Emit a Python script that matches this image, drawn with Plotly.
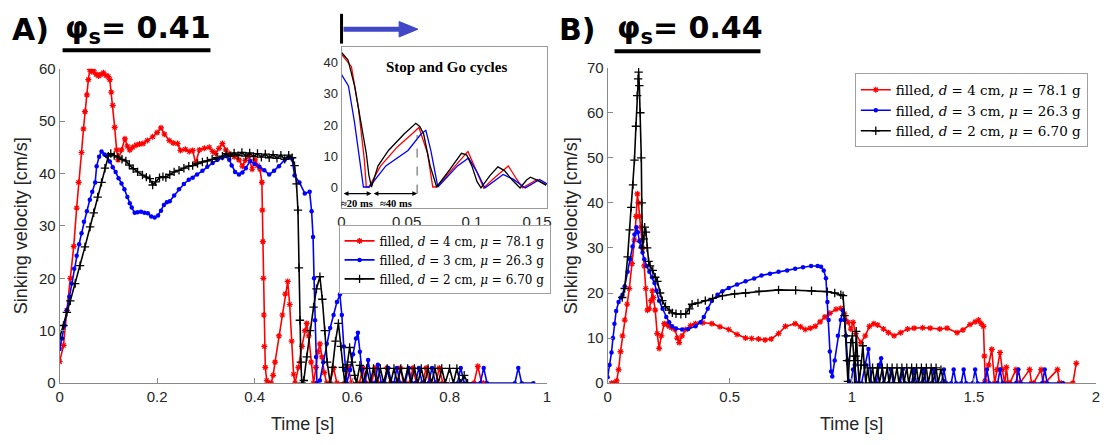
import plotly.graph_objects as go

W, H = 1106, 445

# ---------------- Panel A (phi_s = 0.41) ----------------
a_red_t = [0, 0.008, 0.015, 0.022, 0.029, 0.035, 0.039, 0.045, 0.049, 0.052, 0.056, 0.059, 0.062, 0.066,
           0.070, 0.075, 0.080, 0.085, 0.090, 0.095, 0.100, 0.103, 0.106, 0.109, 0.113, 0.117, 0.120, 0.127,
           0.134, 0.139, 0.144, 0.150, 0.157, 0.164, 0.171, 0.180, 0.191, 0.200, 0.208, 0.215, 0.225, 0.233,
           0.242, 0.248, 0.258, 0.266, 0.273, 0.279, 0.287, 0.297, 0.307, 0.314, 0.320, 0.327, 0.334, 0.341,
           0.348, 0.358, 0.368, 0.375, 0.381, 0.388, 0.395, 0.401, 0.406, 0.411, 0.415, 0.416, 0.417, 0.418,
           0.419, 0.420, 0.422, 0.425, 0.428, 0.434, 0.438, 0.442, 0.450, 0.457, 0.463, 0.468, 0.472, 0.476,
           0.480, 0.483, 0.490, 0.497, 0.503, 0.507, 0.511, 0.516, 0.521, 0.526, 0.530, 0.534, 0.538, 0.543,
           0.548, 0.555, 0.562, 0.569, 0.585, 0.592, 0.599, 0.615, 0.622, 0.629, 0.640, 0.647, 0.654, 0.665,
           0.672, 0.679, 0.692, 0.699, 0.706, 0.718, 0.725, 0.732, 0.745, 0.752, 0.759, 0.772, 0.779, 0.786,
           0.850, 0.858, 0.866, 0.870]
a_red_v = [4.1, 7.2, 13.9, 20.0, 26.1, 33.4, 38.3, 44.0, 48.5, 51.8, 55.0, 57.9, 59.8, 59.4,
           59.6, 58.9, 58.6, 58.9, 59.2, 58.7, 58.5, 57.9, 55.5, 53.0, 48.8, 44.5, 42.6, 44.5,
           46.6, 45.2, 44.5, 45.0, 45.4, 45.6, 45.7, 46.3, 47.0, 47.8, 48.7, 47.5, 46.3, 45.8,
           45.7, 44.4, 44.6, 44.2, 44.4, 42.0, 44.5, 44.8, 45.0, 44.2, 43.8, 44.8, 45.7, 44.5,
           43.8, 43.2, 42.6, 41.4, 42.5, 43.3, 40.8, 42.6, 41.5, 40.8, 38.3, 33.0, 27.0, 20.0,
           13.0, 7.0, 3.0, 0.5, 0.0, 0.0, 1.5, 4.0, 9.0, 13.0, 17.0, 19.4, 15.0, 8.0,
           1.7, 0.0, 3.0, 7.0, 10.0, 11.4, 9.0, 4.0, 0.0, 3.0, 6.0, 7.5, 5.0, 2.0,
           0.0, 0.0, 2.9, 0.0, 0.0, 2.9, 0.0, 0.0, 2.9, 0.0, 0.0, 2.9, 0.0, 0.0,
           2.9, 0.0, 0.0, 2.9, 0.0, 0.0, 2.9, 0.0, 0.0, 2.9, 0.0, 0.0, 2.9, 0.0,
           0.0, 3.2, 0.0, 0.0]

a_blue_t = [0, 0.005, 0.010, 0.015, 0.020, 0.025, 0.030, 0.035, 0.040, 0.045, 0.050, 0.056, 0.062, 0.067,
            0.073, 0.076, 0.081, 0.086, 0.092, 0.097, 0.103, 0.109, 0.115, 0.121, 0.127, 0.133, 0.139, 0.144,
            0.148, 0.154, 0.160, 0.167, 0.174, 0.181, 0.188, 0.195, 0.202, 0.208, 0.214, 0.220, 0.226, 0.235,
            0.245, 0.255, 0.265, 0.273, 0.282, 0.293, 0.303, 0.314, 0.324, 0.334, 0.343, 0.348, 0.353, 0.360,
            0.368, 0.375, 0.382, 0.391, 0.400, 0.410, 0.420, 0.430, 0.440, 0.450, 0.462, 0.470, 0.477, 0.482,
            0.492, 0.503, 0.513, 0.517, 0.520, 0.522, 0.524, 0.526, 0.528, 0.534, 0.541, 0.548, 0.555, 0.562,
            0.569, 0.575, 0.579, 0.583, 0.586, 0.589, 0.596, 0.602, 0.608, 0.612, 0.616, 0.620, 0.623, 0.627,
            0.633, 0.640, 0.647, 0.653, 0.660, 0.667, 0.674, 0.681, 0.686, 0.692, 0.699, 0.709, 0.716, 0.723,
            0.730, 0.737, 0.744, 0.757, 0.764, 0.771, 0.816, 0.823, 0.830, 0.863, 0.870, 0.877, 0.934, 0.941,
            0.948, 0.972]
a_blue_v = [6.5, 8.5, 11.0, 13.9, 16.5, 19.0, 21.8, 24.3, 26.5, 28.6, 30.8, 32.8, 35.0, 36.5,
            38.3, 41.4, 43.2, 44.2, 43.6, 43.3, 42.3, 41.2, 40.3, 39.1, 38.1, 37.0, 35.5, 34.3,
            33.5, 32.5, 32.6, 32.7, 32.5, 32.4, 31.8, 31.6, 32.0, 32.9, 34.0, 34.5, 34.7, 35.8,
            37.0, 38.0, 38.8, 39.2, 39.8, 40.5, 41.3, 42.0, 42.6, 43.0, 43.3, 42.6, 41.5, 40.3,
            39.8, 40.2, 41.0, 42.4, 41.8, 41.3, 40.6, 39.8, 40.5, 41.4, 42.6, 43.0, 42.8, 39.6,
            38.3, 36.2, 36.5, 32.8, 27.9, 20.0, 12.0, 5.0, 0.0, 0.5, 4.0, 7.5, 10.5, 13.0,
            15.5, 16.9, 13.0, 7.0, 2.5, 0.0, 2.5, 5.5, 8.5, 9.6, 6.0, 2.5, 0.0, 0.0,
            4.4, 0.0, 0.0, 3.5, 0.0, 0.0, 2.9, 0.0, 0.0, 2.9, 0.0, 0.0, 2.9, 0.0,
            0.0, 2.9, 0.0, 0.0, 2.9, 0.0, 0.0, 2.9, 0.0, 0.0, 2.9, 0.0, 0.0, 2.9,
            0.0, 0.0]

a_black_t = [0, 0.008, 0.015, 0.022, 0.032, 0.042, 0.052, 0.0625, 0.070, 0.078, 0.086, 0.093, 0.100, 0.105,
             0.112, 0.120, 0.128, 0.136, 0.143, 0.151, 0.160, 0.170, 0.178, 0.185, 0.191, 0.197, 0.205, 0.212,
             0.218, 0.226, 0.235, 0.245, 0.255, 0.265, 0.273, 0.283, 0.293, 0.303, 0.313, 0.323, 0.334, 0.342,
             0.350, 0.358, 0.366, 0.374, 0.382, 0.390, 0.398, 0.406, 0.414, 0.422, 0.430, 0.438, 0.446, 0.454,
             0.462, 0.470, 0.477, 0.482, 0.486, 0.489, 0.491, 0.493, 0.495, 0.497, 0.501, 0.507, 0.514, 0.521,
             0.527, 0.534, 0.539, 0.544, 0.549, 0.555, 0.560, 0.566, 0.572, 0.577, 0.581, 0.585, 0.590, 0.595,
             0.600, 0.605, 0.609, 0.616, 0.623, 0.630, 0.637, 0.644, 0.651, 0.658, 0.665, 0.672, 0.679, 0.686,
             0.693, 0.700, 0.707, 0.714, 0.721, 0.728, 0.735, 0.742, 0.749, 0.756, 0.763, 0.770, 0.777, 0.784,
             0.791, 0.800, 0.808, 0.815, 0.822, 0.830, 0.837]
a_black_v = [8.6, 11.0, 13.5, 15.7, 19.0, 22.4, 26.0, 29.8, 32.5, 35.5, 38.3, 41.0, 43.3, 43.8,
             43.4, 43.1, 42.7, 42.4, 41.6, 40.9, 40.3, 39.7, 39.3, 39.0, 37.8, 38.4, 39.2, 39.4,
             39.2, 39.8, 40.3, 40.6, 41.0, 41.4, 41.5, 41.9, 42.2, 42.4, 42.7, 43.0, 43.3, 43.8,
             43.3, 43.9, 43.4, 44.0, 43.3, 43.9, 43.2, 43.8, 43.1, 43.7, 43.0, 43.6, 42.9, 43.5,
             42.7, 43.5, 43.0, 41.5, 38.0, 33.0, 22.0, 12.0, 4.0, 0.0, 0.5, 5.0, 10.0, 14.5,
             18.0, 20.3, 16.0, 10.0, 4.0, 0.0, 3.0, 8.0, 11.4, 7.0, 3.0, 0.0, 3.5, 6.8,
             4.0, 1.5, 0.0, 3.4, 0.0, 2.8, 0.0, 2.8, 0.0, 2.8, 0.0, 2.8, 0.0, 2.8,
             0.0, 2.8, 0.0, 2.8, 0.0, 2.8, 0.0, 2.8, 0.0, 2.8, 0.0, 2.8, 0.0, 2.8,
             0.0, 2.8, 0.0, 2.8, 0.0, 1.5, 0.0]

# ---------------- Inset: first stop-and-go cycles ----------------
in_red_t = [0, 0.0076, 0.013, 0.0175, 0.019, 0.021, 0.030, 0.043, 0.054, 0.0594, 0.066, 0.070, 0.073,
            0.085, 0.097, 0.104, 0.109, 0.118, 0.128, 0.134, 0.139, 0.145, 0.150, 0.157]
in_red_v = [42.4, 38.5, 25.3, 8.9, 0.3, 0.3, 7.0, 13.1, 17.1, 19.2, 11.0, 0.3, 0.3,
            6.0, 11.6, 5.0, 0.0, 3.5, 7.0, 3.0, 0.0, 1.5, 2.7, 0.9]
in_blue_t = [0, 0.0053, 0.0099, 0.0137, 0.0168, 0.0213, 0.034, 0.051, 0.061, 0.0647, 0.0685, 0.0739,
             0.089, 0.0975, 0.104, 0.110, 0.124, 0.132, 0.141, 0.152, 0.158]
in_blue_v = [36.0, 32.4, 21.0, 8.9, 0.3, 0.3, 7.0, 11.9, 17.1, 18.3, 11.9, 0.3,
             7.0, 9.5, 5.0, 0.0, 4.3, 2.7, 0.0, 2.7, 1.2]
in_black_t = [0, 0.005, 0.010, 0.015, 0.019, 0.021, 0.023, 0.028, 0.036, 0.048, 0.054, 0.057, 0.060,
              0.063, 0.068, 0.073, 0.083, 0.092, 0.096, 0.100, 0.104, 0.107, 0.114, 0.120, 0.125, 0.131,
              0.137, 0.142, 0.145, 0.150, 0.157]
in_black_v = [43.0, 40.6, 32.4, 21.0, 11.0, 4.0, 0.3, 7.0, 11.9, 17.1, 19.5, 20.5, 19.5,
              17.1, 7.0, 0.3, 5.8, 11.0, 10.5, 7.0, 2.0, 0.0, 4.0, 6.7, 5.5, 2.5,
              0.0, 2.5, 3.4, 2.5, 0.9]

# ---------------- Panel B (phi_s = 0.44) ----------------
b_red_t = [0.016, 0.025, 0.037, 0.045, 0.053, 0.061, 0.070, 0.080, 0.089, 0.100, 0.110, 0.117, 0.122, 0.126,
           0.131, 0.137, 0.143, 0.150, 0.156, 0.163, 0.170, 0.178, 0.183, 0.188, 0.195, 0.203, 0.211, 0.220,
           0.232, 0.242, 0.252, 0.262, 0.275, 0.285, 0.293, 0.305, 0.320, 0.340, 0.360, 0.390, 0.427, 0.460,
           0.496, 0.530, 0.565, 0.590, 0.618, 0.645, 0.670, 0.700, 0.728, 0.768, 0.790, 0.809, 0.830, 0.850,
           0.870, 0.890, 0.910, 0.935, 0.955, 0.970, 0.985, 0.996, 1.005, 1.016, 1.037, 1.055, 1.072, 1.090,
           1.106, 1.130, 1.150, 1.173, 1.200, 1.228, 1.255, 1.290, 1.321, 1.360, 1.390, 1.431, 1.455, 1.484,
           1.505, 1.519, 1.530, 1.539, 1.543, 1.546, 1.560, 1.573, 1.585, 1.595, 1.607, 1.616, 1.626, 1.633,
           1.640, 1.647, 1.672, 1.680, 1.688, 1.728, 1.736, 1.744, 1.775, 1.783, 1.791, 1.842, 1.850, 1.858,
           1.905, 1.919]
b_red_v = [0.0, 0.0, 0.5, 3.0, 7.0, 10.5, 14.0, 17.5, 21.0, 26.5, 31.8, 37.0, 42.0, 40.0,
           37.0, 34.6, 30.0, 26.0, 21.0, 16.2, 16.5, 18.3, 20.5, 19.0, 16.2, 11.0, 7.7, 10.5,
           13.2, 13.0, 12.6, 12.3, 11.9, 10.0, 9.0, 10.5, 11.9, 12.8, 13.2, 13.4, 13.2, 12.5,
           11.9, 10.8, 10.0, 9.9, 9.8, 9.6, 9.8, 11.0, 12.6, 13.2, 12.5, 11.9, 12.2, 12.6,
           13.6, 14.7, 15.5, 16.4, 16.6, 15.4, 13.5, 12.0, 13.5, 11.0, 9.0, 10.5, 12.6, 13.2,
           12.9, 12.0, 11.2, 10.5, 11.2, 12.0, 12.2, 12.3, 12.2, 12.0, 12.2, 11.2, 11.8, 13.0,
           13.6, 14.0, 13.2, 12.6, 6.0, 0.5, 4.0, 7.5, 0.0, 3.0, 6.8, 3.0, 0.0, 3.5,
           0.0, 0.0, 3.0, 0.0, 0.0, 3.0, 0.0, 0.0, 3.0, 0.0, 0.0, 3.0, 0.0, 0.0,
           0.0, 4.4]

b_blue_t = [0, 0.008, 0.016, 0.022, 0.028, 0.035, 0.045, 0.055, 0.061, 0.070, 0.082, 0.092, 0.102, 0.110,
            0.118, 0.124, 0.130, 0.137, 0.143, 0.150, 0.160, 0.171, 0.182, 0.192, 0.200, 0.211, 0.225, 0.240,
            0.252, 0.264, 0.280, 0.305, 0.330, 0.360, 0.380, 0.394, 0.410, 0.427, 0.450, 0.470, 0.496, 0.530,
            0.565, 0.600, 0.630, 0.665, 0.700, 0.735, 0.768, 0.800, 0.833, 0.860, 0.874, 0.885, 0.894, 0.900,
            0.905, 0.910, 0.915, 0.920, 0.930, 0.943, 0.955, 0.963, 0.970, 0.976, 0.982, 0.988, 0.996, 1.005,
            1.012, 1.020, 1.040, 1.055, 1.068, 1.080, 1.100, 1.112, 1.120, 1.130, 1.150, 1.160, 1.170, 1.198,
            1.208, 1.218, 1.245, 1.255, 1.265, 1.285, 1.295, 1.305, 1.326, 1.336, 1.346, 1.367, 1.377, 1.387,
            1.407, 1.417, 1.427, 1.448, 1.458, 1.468, 1.495, 1.505, 1.515, 1.543, 1.553, 1.563, 1.597, 1.607,
            1.617, 1.672, 1.682, 1.692, 1.780, 1.790, 1.800, 1.865]
b_blue_v = [1.3, 4.0, 6.8, 10.0, 13.2, 16.0, 18.0, 19.0, 19.6, 21.5, 24.7, 27.5, 30.3, 33.0,
            34.6, 33.5, 31.5, 30.3, 29.0, 27.5, 26.0, 24.7, 23.5, 22.2, 20.5, 18.3, 16.5, 14.7,
            13.5, 12.6, 12.1, 11.9, 12.0, 12.6, 13.5, 14.7, 16.5, 18.3, 19.6, 20.4, 21.1, 21.9,
            22.6, 23.2, 23.9, 24.3, 24.7, 25.0, 25.4, 25.7, 26.0, 26.0, 25.8, 25.0, 23.3, 18.0,
            14.0, 7.0, 2.6, 1.5, 5.0, 10.5, 14.0, 16.2, 14.0, 10.5, 5.0, 0.4, 0.0, 3.0,
            4.0, 0.0, 0.0, 4.0, 7.6, 0.0, 0.0, 4.0, 5.5, 0.0, 0.0, 3.0, 0.0, 0.0,
            3.0, 0.0, 0.0, 3.0, 0.0, 0.0, 3.0, 0.0, 0.0, 3.0, 0.0, 0.0, 3.0, 0.0,
            0.0, 3.0, 0.0, 0.0, 3.0, 0.0, 0.0, 3.0, 0.0, 0.0, 3.0, 0.0, 0.0, 3.0,
            0.0, 0.0, 3.0, 0.0, 0.0, 3.0, 0.0, 0.0]

b_black_t = [0.060, 0.070, 0.082, 0.090, 0.097, 0.104, 0.110, 0.116, 0.121, 0.125, 0.127, 0.130, 0.134, 0.138,
             0.140, 0.143, 0.148, 0.152, 0.157, 0.162, 0.168, 0.174, 0.185, 0.195, 0.204, 0.215, 0.224, 0.237,
             0.252, 0.265, 0.280, 0.300, 0.320, 0.335, 0.346, 0.370, 0.400, 0.430, 0.470, 0.520, 0.565, 0.620,
             0.700, 0.770, 0.835, 0.900, 0.930, 0.955, 0.964, 0.970, 0.975, 0.980, 0.984, 0.990, 0.996, 1.002,
             1.008, 1.012, 1.016, 1.018, 1.024, 1.030, 1.038, 1.045, 1.051, 1.057, 1.065, 1.073, 1.085, 1.093,
             1.105, 1.113, 1.125, 1.133, 1.145, 1.153, 1.165, 1.173, 1.185, 1.193, 1.205, 1.213, 1.225, 1.233,
             1.245, 1.253, 1.265, 1.273, 1.285, 1.293, 1.305, 1.313, 1.325, 1.333, 1.345, 1.353, 1.365, 1.378]
b_black_v = [19.0, 21.0, 28.0, 34.0, 39.0, 44.0, 49.5, 57.0, 63.8, 67.5, 69.0, 66.0, 60.0, 50.0,
             40.0, 30.0, 32.0, 34.6, 33.5, 30.0, 27.0, 26.0, 25.0, 23.5, 22.6, 20.0, 18.3, 17.0,
             16.2, 15.6, 15.4, 15.3, 15.4, 16.5, 17.5, 17.8, 18.3, 18.8, 19.4, 19.8, 20.0, 20.4,
             20.7, 20.6, 20.5, 20.3, 20.0, 19.6, 19.4, 15.0, 10.5, 5.0, 0.4, 5.0, 9.0, 10.5,
             6.0, 0.0, 6.0, 11.5, 5.0, 0.0, 4.0, 8.3, 4.0, 0.0, 3.4, 0.0, 3.4, 0.0,
             3.4, 0.0, 3.4, 0.0, 3.4, 0.0, 3.4, 0.0, 3.4, 0.0, 3.4, 0.0, 3.4, 0.0,
             3.4, 0.0, 3.4, 0.0, 3.4, 0.0, 3.4, 0.0, 3.4, 0.0, 3.4, 0.0, 3.0, 0.0]

legend_names = ["filled, <i>d</i> = 4 cm, <i>μ</i> = 78.1 g",
                "filled, <i>d</i> = 3 cm, <i>μ</i> = 26.3 g",
                "filled, <i>d</i> = 2 cm, <i>μ</i> = 6.70 g"]

RED, BLUE, BLACK = "#ff0000", "#0000ff", "#000000"
AX_COL = "#8a8a8a"
TXT_COL = "#262626"


def fx(px):
    return px / W


def fy(py):
    return 1 - py / H


def marker_style(color, kind):
    if kind == "star":
        return dict(symbol="asterisk", size=5, color=color, line=dict(color=color, width=1.2))
    if kind == "dot":
        return dict(symbol="circle", size=4.5, color=color, line=dict(width=0))
    return dict(symbol="cross-thin", size=6, color=color, line=dict(color=color, width=1.3))


fig = go.Figure()

panelA = [(a_red_t, a_red_v, RED, "star"), (a_blue_t, a_blue_v, BLUE, "dot"), (a_black_t, a_black_v, BLACK, "plus")]
for (t, v, c, k), name in zip(panelA, legend_names):
    fig.add_trace(go.Scatter(x=t, y=v, mode="lines+markers", name=name, xaxis="x", yaxis="y",
                             line=dict(color=c, width=1.6), marker=marker_style(c, k), legend="legend"))

panelB = [(b_red_t, b_red_v, RED, "star"), (b_blue_t, b_blue_v, BLUE, "dot"), (b_black_t, b_black_v, BLACK, "plus")]
for (t, v, c, k), name in zip(panelB, legend_names):
    fig.add_trace(go.Scatter(x=t, y=v, mode="lines+markers", name=name, xaxis="x2", yaxis="y2",
                             line=dict(color=c, width=1.6), marker=marker_style(c, k), legend="legend2"))

for t, v, c in [(in_red_t, in_red_v, RED), (in_blue_t, in_blue_v, BLUE), (in_black_t, in_black_v, BLACK)]:
    fig.add_trace(go.Scatter(x=t, y=v, mode="lines", xaxis="x3", yaxis="y3", showlegend=False,
                             line=dict(color=c, width=1.3)))

tickfont = dict(family="Liberation Sans, Arial", size=15, color=TXT_COL)
common = dict(showgrid=False, zeroline=False, showline=True, linecolor=AX_COL, linewidth=1,
              ticks="inside", ticklen=5, tickcolor=AX_COL, tickfont=tickfont)
legend_serif = "DejaVu Serif, Liberation Serif"

fig.update_layout(
    width=W, height=H, margin=dict(l=0, r=0, t=0, b=0),
    paper_bgcolor="white", plot_bgcolor="white",
    xaxis=dict(domain=[fx(56), fx(547)], range=[0, 1], tickvals=[0, 0.2, 0.4, 0.6, 0.8, 1],
               ticktext=["0", "0.2", "0.4", "0.6", "0.8", "1"], anchor="y", **common),
    yaxis=dict(domain=[fy(389), fy(62)], range=[0, 60], dtick=10, anchor="x", **common),
    xaxis2=dict(domain=[fx(608), fx(1100)], range=[0, 2], tickvals=[0, 0.5, 1, 1.5, 2],
                ticktext=["0", "0.5", "1", "1.5", "2"], anchor="y2", **common),
    yaxis2=dict(domain=[fy(389), fy(61)], range=[0, 70], dtick=10, anchor="x2", **common),
    xaxis3=dict(domain=[fx(340), fx(547)], range=[0, 0.1577], tickvals=[0, 0.05, 0.1, 0.15],
                ticktext=["0", "0.05", "0.1", "0.15"], anchor="y3", mirror=True, showgrid=False,
                zeroline=False, showline=True, linecolor="#9a9a9a", ticks="",
                tickfont=dict(family="Liberation Sans, Arial", size=15, color=TXT_COL)),
    yaxis3=dict(domain=[fy(207), fy(39)], range=[-6.4, 44.9], tickvals=[0, 10, 20, 30, 40],
                anchor="x3", mirror=True, showgrid=False, zeroline=False, showline=True,
                linecolor="#9a9a9a", ticks="",
                tickfont=dict(family="Liberation Sans, Arial", size=13, color=TXT_COL)),
    legend=dict(x=fx(337), y=fy(225), xanchor="left", yanchor="top", bgcolor="white",
                bordercolor="#a0a0a0", borderwidth=1, itemwidth=30, tracegroupgap=0,
                font=dict(family=legend_serif, size=12, color="black")),
    legend2=dict(x=fx(857), y=fy(67), xanchor="left", yanchor="top", bgcolor="white",
                 bordercolor="#a0a0a0", borderwidth=1, itemwidth=30, tracegroupgap=0,
                 font=dict(family=legend_serif, size=13.5, color="black")),
    showlegend=True,
)

title_font = dict(family="DejaVu Sans, Verdana", size=30, color="black")
label_font = dict(family="Liberation Sans, Arial", size=18, color=TXT_COL)
serif = "Liberation Serif, Times New Roman"


def paper_text(text, x, y, font, **kw):
    return dict(text=text, x=fx(x), y=fy(y), xref="paper", yref="paper", showarrow=False,
                xanchor=kw.pop("xanchor", "center"), yanchor="middle", font=font, **kw)


annotations = [
    paper_text("<b>A)</b>", 6, 21, title_font, xanchor="left"),
    paper_text("<b>φ<sub>s</sub>= 0.41</b>", 59, 21, title_font, xanchor="left"),
    paper_text("<b>B)</b>", 557, 21, title_font, xanchor="left"),
    paper_text("<b>φ<sub>s</sub>= 0.44</b>", 615, 21, title_font, xanchor="left"),
    paper_text("Sinking velocity [cm/s]", 18, 225, label_font, textangle=-90),
    paper_text("Sinking velocity [cm/s]", 572, 225, label_font, textangle=-90),
    paper_text("Time [s]", 301, 432, label_font),
    paper_text("Time [s]", 854, 432, label_font),
    paper_text("<b>Stop and Go cycles</b>", 446, 60, dict(family=serif, size=15, color="black")),
    dict(text="<b>≈20 ms</b>", x=0.0115, y=-4.8, xref="x3", yref="y3", showarrow=False,
         xanchor="center", yanchor="middle", font=dict(family=serif, size=10.5, color="black")),
    dict(text="<b>≈40 ms</b>", x=0.0415, y=-4.8, xref="x3", yref="y3", showarrow=False,
         xanchor="center", yanchor="middle", font=dict(family=serif, size=10.5, color="black")),
    dict(text="", x=0.023, y=-1.8, xref="x3", yref="y3", ax=0.0005, ay=-1.8, axref="x3", ayref="y3",
         showarrow=True, arrowhead=2, arrowside="end+start", arrowsize=0.8, arrowwidth=1.2, arrowcolor="black"),
    dict(text="", x=0.058, y=-1.8, xref="x3", yref="y3", ax=0.0235, ay=-1.8, axref="x3", ayref="y3",
         showarrow=True, arrowhead=2, arrowside="end+start", arrowsize=0.8, arrowwidth=1.2, arrowcolor="black"),
]
fig.update_layout(annotations=annotations)

shapes = [
    # title underlines
    dict(type="line", xref="paper", yref="paper", x0=fx(59), x1=fx(208), y0=fy(43), y1=fy(43),
         line=dict(color="black", width=4)),
    dict(type="line", xref="paper", yref="paper", x0=fx(615), x1=fx(762), y0=fy(44), y1=fy(44),
         line=dict(color="black", width=4)),
    # direction marker above the inset
    dict(type="line", xref="paper", yref="paper", x0=fx(340), x1=fx(340), y0=fy(5), y1=fy(36),
         line=dict(color="black", width=3)),
    dict(type="line", xref="paper", yref="paper", x0=fx(342), x1=fx(400), y0=fy(21), y1=fy(21),
         line=dict(color="#4048c8", width=5)),
    dict(type="path", xref="paper", yref="paper",
         path=f"M {fx(398)},{fy(13)} L {fx(417)},{fy(21)} L {fx(398)},{fy(29)} Z",
         fillcolor="#4048c8", line=dict(color="#4048c8", width=1)),
    # dashed guide at the first rebound peak
    dict(type="line", xref="x3", yref="y3", x0=0.058, x1=0.058, y0=-1.8, y1=16.8,
         line=dict(color="#555555", width=1, dash="dash")),
]
fig.update_layout(shapes=shapes)

fig.write_html("out.html")
